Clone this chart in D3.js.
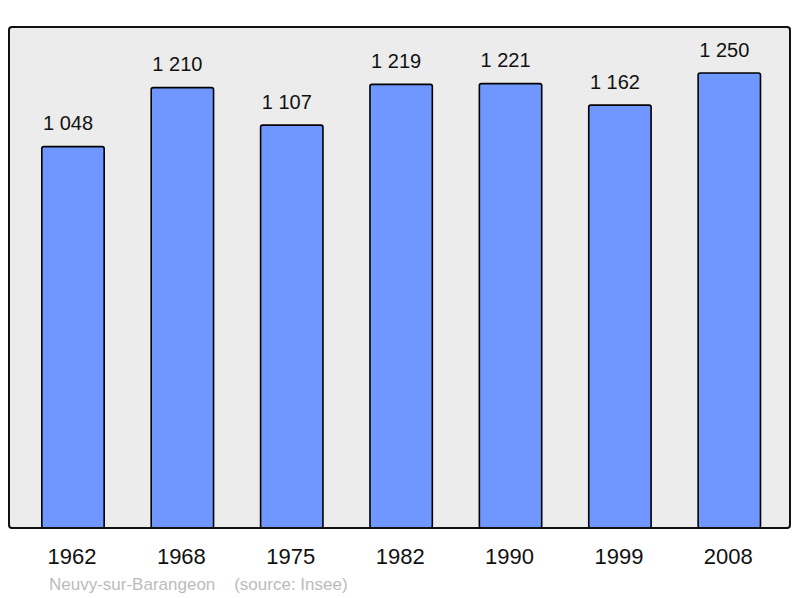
<!DOCTYPE html>
<html>
<head>
<meta charset="utf-8">
<script src="https://cdn.jsdelivr.net/npm/d3@7"></script>
<style>
  body { margin: 0; background: #fff; }
  text { font-family: "Liberation Sans", Arial, sans-serif; }
</style>
</head>
<body>
<script>
var years = ["1962", "1968", "1975", "1982", "1990", "1999", "2008"];
var population = [1048, 1210, 1107, 1219, 1221, 1162, 1250];
var town = "Neuvy-sur-Barangeon";
var source = "(source: Insee)";

var width = 800, height = 598;
var frame = { left: 9, top: 27, right: 790, bottom: 528 };

var svg = d3.select("body")
  .append("svg")
  .attr("width", width)
  .attr("height", height);

svg.append("rect")
  .attr("x", frame.left)
  .attr("y", frame.top)
  .attr("width", frame.right - frame.left)
  .attr("height", frame.bottom - frame.top)
  .attr("rx", 3)
  .style("fill", "#ececec")
  .style("stroke", "#111")
  .style("stroke-width", 2);

var x = d3.scaleBand()
  .domain(years)
  .range([18.3, 784])
  .paddingInner(0.43)
  .paddingOuter(0.215);

var y = d3.scaleLinear()
  .domain([0, d3.max(population) * 1.1])
  .range([frame.bottom, frame.top]);

var data = years.map(function (yr, i) { return { year: yr, value: population[i] }; });

svg.selectAll("rect.bar")
  .data(data)
  .enter()
  .append("rect")
  .attr("class", "bar")
  .attr("x", function (d) { return x(d.year); })
  .attr("y", function (d) { return y(d.value) + 0.5; })
  .attr("width", x.bandwidth())
  .attr("height", function (d) { return frame.bottom - y(d.value) - 0.5; })
  .attr("rx", 2)
  .style("fill", "#7097ff")
  .style("stroke", "#000")
  .style("stroke-width", 1.6);

// redraw bottom frame line over the bar bottoms
svg.append("line")
  .attr("x1", frame.left + 2)
  .attr("x2", frame.right - 2)
  .attr("y1", frame.bottom)
  .attr("y2", frame.bottom)
  .style("stroke", "#111")
  .style("stroke-width", 2);

svg.selectAll("text.value")
  .data(data)
  .enter()
  .append("text")
  .attr("class", "value")
  .attr("x", function (d) { return x(d.year) + x.bandwidth() / 2 - 5; })
  .attr("y", function (d) { return y(d.value) - 16; })
  .attr("text-anchor", "middle")
  .style("font-size", "20px")
  .style("fill", "#111")
  .text(function (d) { return d3.format(",")(d.value).replace(",", " "); });

svg.selectAll("text.year")
  .data(data)
  .enter()
  .append("text")
  .attr("class", "year")
  .attr("x", function (d) { return x(d.year) + x.bandwidth() / 2 - 1; })
  .attr("y", 564)
  .attr("text-anchor", "middle")
  .style("font-size", "22px")
  .style("fill", "#111")
  .text(function (d) { return d.year; });

svg.append("text")
  .attr("x", 49)
  .attr("y", 590)
  .style("font-size", "17px")
  .style("fill", "#bbb")
  .style("white-space", "pre")
  .attr("xml:space", "preserve")
  .text(town + "    " + source);
</script>
</body>
</html>
